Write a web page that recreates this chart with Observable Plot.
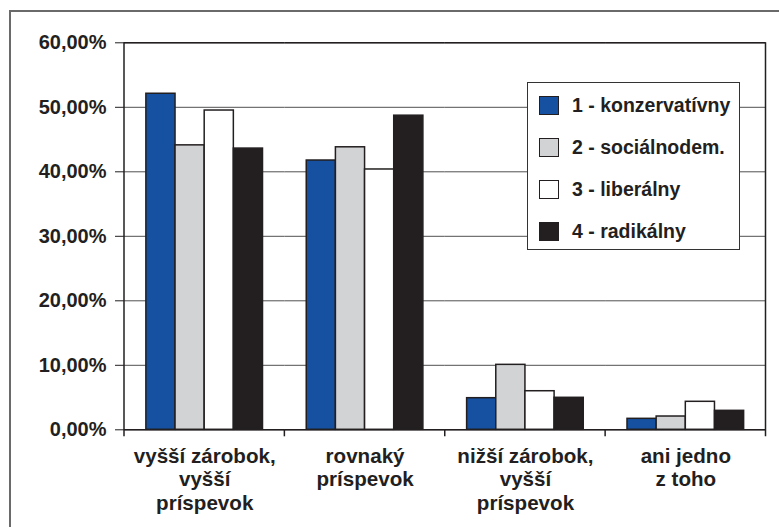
<!DOCTYPE html>
<html>
<head>
<meta charset="utf-8">
<script src="https://cdn.jsdelivr.net/npm/d3@7"></script>
<script src="https://cdn.jsdelivr.net/npm/@observablehq/plot@0.6"></script>
<style>
  html, body { margin: 0; padding: 0; background: #fff; }
  #wrap { position: relative; width: 779px; height: 527px; overflow: hidden; background: #fff; }
  #border { position: absolute; left: 9px; top: 10px; width: 800px; height: 600px; border: 2px solid #6a6a6a; box-sizing: border-box; pointer-events: none; }
  #legend { position: absolute; left: 527px; top: 82px; width: 213px; height: 168px; box-sizing: border-box;
            border: 1.5px solid #333; background: #fff; font-family: "Liberation Sans", Arial, sans-serif;
            font-weight: bold; font-size: 19.5px; color: #231f20; }
  .row { position: absolute; left: 11px; height: 20px; display: flex; align-items: center; white-space: nowrap; }
  .sw { width: 20px; height: 19px; box-sizing: border-box; border: 1.5px solid #231f20; margin-right: 13px; }
</style>
</head>
<body>
<div id="wrap">
  <div id="chart"></div>
  <div id="legend"></div>
  <div id="border"></div>
</div>
<script>
// ---- data ----
const categories = [
  "vyšší zárobok, vyšší príspevok",
  "rovnaký príspevok",
  "nižší zárobok, vyšší príspevok",
  "ani jedno z toho"
];
const categoryLabels = [
  "vyšší zárobok,\nvyšší\npríspevok",
  "rovnaký\npríspevok",
  "nižší zárobok,\nvyšší\npríspevok",
  "ani jedno\nz toho"
];
const series = ["1 - konzervatívny", "2 - sociálnodem.", "3 - liberálny", "4 - radikálny"];
const konzervativny = [52.1, 41.75, 4.9, 1.7];
const socialnodem   = [44.1, 43.8, 10.07, 2.06];
const liberalny     = [49.5, 40.36, 5.98, 4.34];
const radikalny     = [43.6, 48.7, 4.96, 2.94];
const colors = ["#1550a1", "#d1d3d4", "#ffffff", "#231f20"];
const yTicks = [0, 10, 20, 30, 40, 50, 60];

const seriesValues = [konzervativny, socialnodem, liberalny, radikalny];
const table = [];
categories.forEach((c, ci) => {
  series.forEach((s, si) => table.push({category: c, series: s, value: seriesValues[si][ci]}));
});
const labelOf = new Map(categories.map((c, i) => [c, categoryLabels[i]]));

const ink = "#231f20";

const chart = Plot.plot({
  width: 779,
  height: 527,
  marginLeft: 124,
  marginRight: 13.5,
  marginTop: 42.3,
  marginBottom: 97.7,
  style: {
    fontFamily: "'Liberation Sans', Arial, sans-serif",
    fontSize: "20px",
    fontWeight: "bold",
    color: ink,
    background: "transparent",
    overflow: "visible"
  },
  fx: {domain: categories, paddingInner: 0, paddingOuter: 0, round: false, axis: null, label: null},
  x: {domain: series, paddingInner: 0, paddingOuter: 0.75, round: false, axis: null, label: null},
  y: {
    domain: [0, 60],
    ticks: yTicks,
    tickFormat: d => d.toFixed(2).replace(".", ",") + "%",
    tickSize: 9,
    tickPadding: 9,
    label: null
  },
  color: {domain: series, range: colors},
  marks: [
    Plot.gridY(yTicks, {stroke: "#505050", strokeOpacity: 1, strokeWidth: 1}),
    Plot.barY(table, {
      fx: "category", x: "series", y: "value", fill: "series",
      stroke: ink, strokeWidth: 1.5, inset: 0
    }),
    Plot.ruleY([0, 60], {stroke: ink, strokeWidth: 1.5}),
    Plot.text(categories, {
      fx: d => d, text: d => labelOf.get(d),
      frameAnchor: "bottom", lineAnchor: "top", textAnchor: "middle",
      dy: 16.5, fontSize: 20.6, lineHeight: 1.14, fontWeight: "bold", fill: ink
    }),
    Plot.frame({
      facet: "super",
      render(index, scales, values, dimensions) {
        const {fx, y} = scales;
        const top = y(60), base = y(0), tick = base + 7;
        const left = fx(categories[0]);
        const right = dimensions.width - dimensions.marginRight;
        const g = d3.create("svg:g").attr("stroke", ink).attr("stroke-width", 1.5).attr("fill", "none");
        g.append("line").attr("x1", left).attr("x2", left).attr("y1", top).attr("y2", tick);
        g.append("line").attr("x1", right).attr("x2", right).attr("y1", top).attr("y2", tick);
        categories.slice(1).forEach(c => {
          const xx = fx(c);
          g.append("line").attr("x1", xx).attr("x2", xx).attr("y1", base).attr("y2", tick);
        });
        return g.node();
      }
    })
  ]
});
document.getElementById("chart").appendChild(chart);

// legend (inside the plot area, as in the reference)
const legend = document.getElementById("legend");
series.forEach((s, i) => {
  const row = document.createElement("div");
  row.className = "row";
  row.style.top = (12.3 + i * 41.9) + "px";
  const sw = document.createElement("div");
  sw.className = "sw";
  sw.style.background = colors[i];
  const t = document.createElement("span");
  t.textContent = s;
  row.appendChild(sw);
  row.appendChild(t);
  legend.appendChild(row);
});
</script>
</body>
</html>
